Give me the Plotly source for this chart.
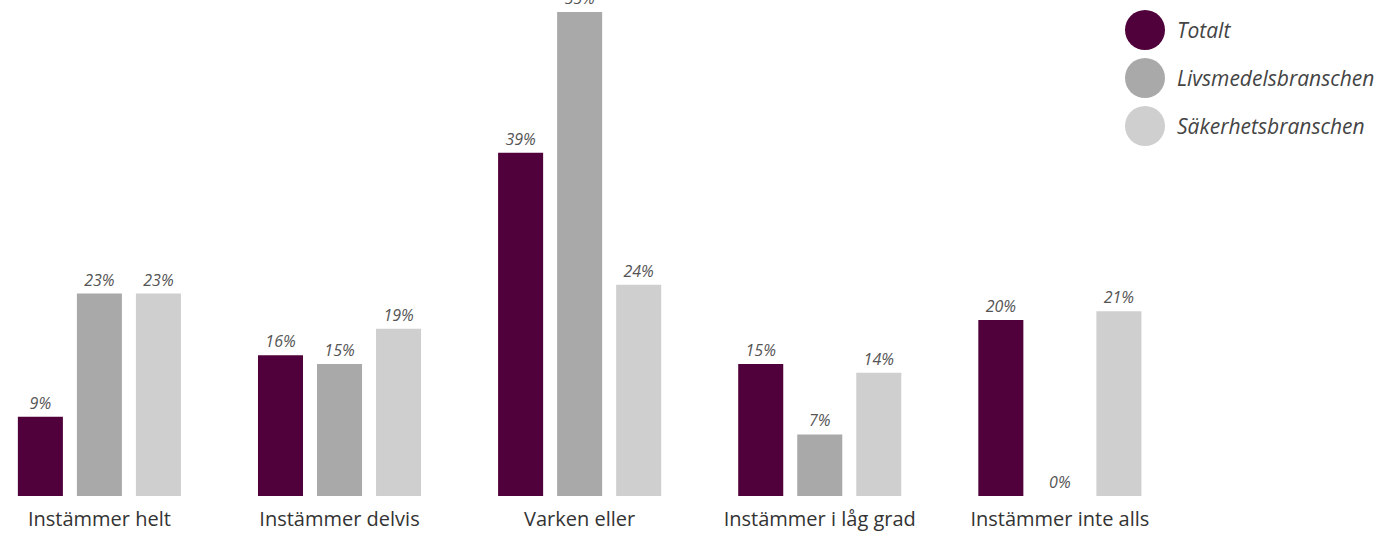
import plotly.graph_objects as go

categories = [
    "Instämmer helt",
    "Instämmer delvis",
    "Varken eller",
    "Instämmer i låg grad",
    "Instämmer inte alls",
]

totalt = [9, 16, 39, 15, 20]
livsmedel = [23, 15, 55, 7, 0]
sakerhet = [23, 19, 24, 14, 21]

series_names = ["Totalt", "Livsmedelsbranschen", "Säkerhetsbranschen"]
series_values = [totalt, livsmedel, sakerhet]
colors = ["#50003a", "#aaa9aa", "#d0cfd0"]

FONT = "Open Sans"

fig = go.Figure()

for name, values, color in zip(series_names, series_values, colors):
    fig.add_trace(
        go.Bar(
            x=categories,
            y=values,
            name=name,
            marker=dict(color=color, line=dict(width=0)),
            texttemplate="%{y}%",
            textposition="outside",
            textfont=dict(family=FONT, size=16, color="#555555", style="italic"),
            showlegend=False,
            hoverinfo="skip",
        )
    )

# manual legend with large circles
plot_w = 1160
plot_h = 496
for i, (name, color) in enumerate(zip(series_names, colors)):
    cy = 30 + i * 48
    fig.add_shape(
        type="circle",
        xref="paper",
        yref="paper",
        x0=1125 / plot_w,
        x1=1165 / plot_w,
        y0=(plot_h - cy - 20) / plot_h,
        y1=(plot_h - cy + 20) / plot_h,
        fillcolor=color,
        line=dict(width=0),
        layer="above",
    )
    fig.add_annotation(
        xref="paper",
        yref="paper",
        x=1175 / plot_w,
        y=(plot_h - cy) / plot_h,
        xanchor="left",
        yanchor="middle",
        text=name,
        showarrow=False,
        font=dict(family=FONT, size=21, color="#444444", style="italic"),
    )

fig.update_layout(
    width=1385,
    height=533,
    margin=dict(l=0, r=1385 - plot_w, t=0, b=533 - plot_h),
    plot_bgcolor="white",
    paper_bgcolor="white",
    barmode="group",
    bargap=0.2625,
    bargroupgap=0.237,
    font=dict(family=FONT),
)

fig.update_xaxes(
    range=[-0.414, 4.417],
    showgrid=False,
    zeroline=False,
    showline=False,
    ticks="",
    ticklabelstandoff=9,
    tickfont=dict(family=FONT, size=20, color="#333333"),
)

fig.update_yaxes(
    range=[0, 56.36],
    visible=False,
    showgrid=False,
    zeroline=False,
)

fig.write_html(
    "out.html",
    config={"displayModeBar": False},
    post_script="document.body.style.margin='0';",
)
